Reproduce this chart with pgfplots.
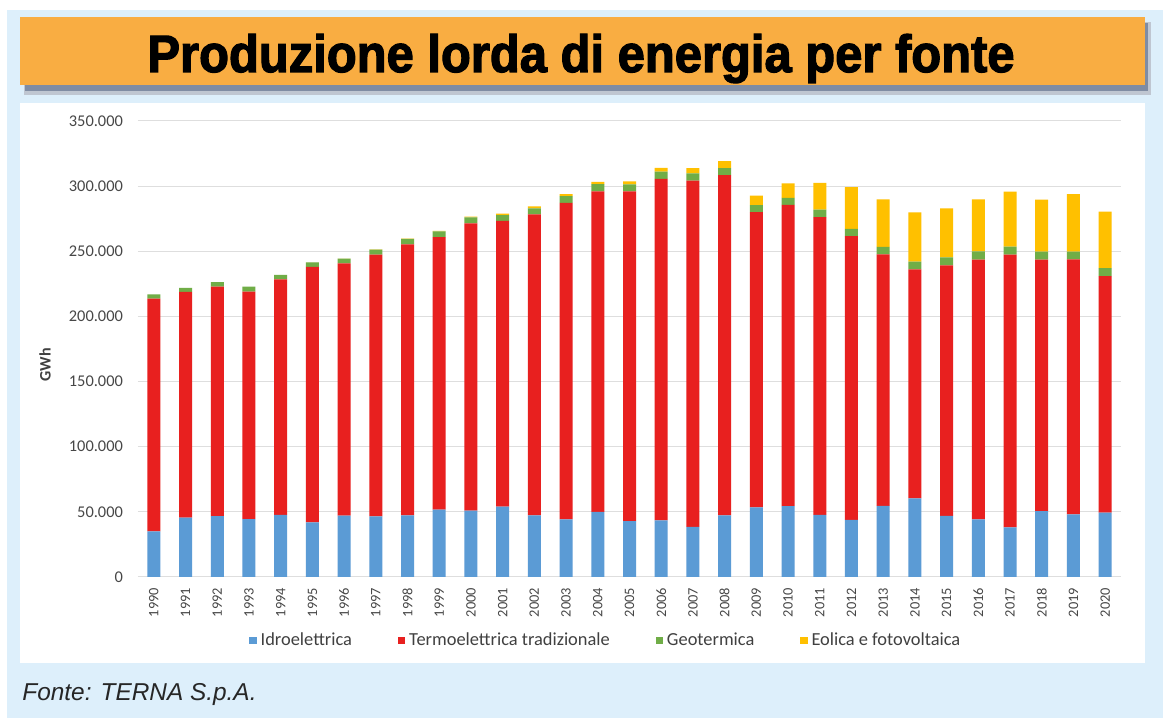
\documentclass[border=0pt]{standalone}
\usepackage{fontspec}
\usepackage{graphicx}
\usepackage{pgfplots}
\pgfplotsset{compat=1.18}
\usepackage{pgfplotstable}
\usetikzlibrary{backgrounds}
\setmainfont{Carlito}
\newfontfamily\titlefont{Liberation Sans}[BoldFeatures={FakeBold=2.4}]
\newfontfamily\fontefont{Liberation Sans}

\definecolor{bgblue}{HTML}{DDEFFB}
\definecolor{banner}{HTML}{F9AD42}
\definecolor{shadow}{HTML}{7F8CA3}
\definecolor{idro}{HTML}{5B9BD5}
\definecolor{termo}{HTML}{E8201F}
\definecolor{geo}{HTML}{70AD47}
\definecolor{eolica}{HTML}{FFC000}

% GWh per source, 1990-2020
\pgfplotstableread{
year hydro thermo geo ws
1990 35079 178590 3222 0
1991 45606 173212 3182 0
1992 46786 175998 3459 0
1993 44482 174637 3667 0
1994 47731 180656 3417 0
1995 41907 196123 3436 14
1996 47072 193568 3762 40
1997 46552 200881 3905 125
1998 47365 207970 4214 237
1999 51777 209068 4403 409
2000 50900 220455 4705 569
2001 53926 219379 4507 1183
2002 47262 231069 4662 1408
2003 44277 242784 5341 1463
2004 49908 246125 5437 1851
2005 42927 253073 5325 2347
2006 43425 262132 5527 3006
2007 38481 265765 5569 4073
2008 47227 261135 5520 5248
2009 53443 226638 5342 7219
2010 54407 231247 5376 11032
2011 47757 228500 5654 20674
2012 43854 217711 5592 32119
2013 54672 192975 5659 36497
2014 60256 175831 5916 37826
2015 46969 192221 6185 37619
2016 44257 199433 6289 39789
2017 38025 209339 6201 42267
2018 50503 193043 6105 40057
2019 48154 195566 6075 44058
2020 49495 181468 6026 43543
}\data

\begin{document}
\begin{tikzpicture}
\begin{axis}[
    name=ax,
    scale only axis,
    width=491.5pt, height=228pt,
    ybar stacked,
    bar width=6.5pt,
    xmin=-0.5, xmax=30.5,
    ymin=0, ymax=350000,
    ytick={0,50000,...,350000},
    scaled y ticks=false,
    xtick=data,
    xticklabels from table={\data}{year},
    axis line style={draw=none},
    major tick length=0pt,
    ymajorgrids=true,
    major grid style={color=black!13, line width=0.5pt},
    tick label style={text=black!72},
    yticklabel style={font=\fontsize{8.2}{9}\selectfont,
        /pgf/number format/.cd, fixed, 1000 sep={.}, assume math mode=true},
    xticklabel style={font=\fontsize{7.2}{8}\selectfont, rotate=90, anchor=east},
    yticklabel shift=4pt,
    xticklabel shift=2pt,
    legend style={draw=none, fill=none, at={(0.477,-0.14)}, anchor=center,
        legend columns=4, font=\fontsize{9.2}{10}\selectfont, text=black!75,
        /tikz/every even column/.append style={column sep=21pt}},
    legend image code/.code={\fill[#1] (0pt,-1.8pt) rectangle (3.6pt,1.8pt);},
    legend cell align=left,
]
\addplot[fill=idro, draw=none] table[x expr=\coordindex, y=hydro]{\data};
\addplot[fill=termo, draw=none] table[x expr=\coordindex, y=thermo]{\data};
\addplot[fill=geo, draw=none] table[x expr=\coordindex, y=geo]{\data};
\addplot[fill=eolica, draw=none] table[x expr=\coordindex, y=ws]{\data};
\legend{Idroelettrica, Termoelettrica tradizionale, Geotermica, Eolica e fotovoltaica}
\end{axis}

% frame, title and notes placed relative to the axis box (pixel/2 coordinates)
\begin{scope}[shift={(ax.south west)}, xshift=-69pt, yshift=-70.5pt, x=1pt, y=1pt]
\begin{scope}[on background layer]
\fill[white] (0,0) rectangle (581.5,359);
\fill[bgblue] (3.5,0) rectangle (581.5,354);
\fill[shadow!50] (12,311.5) rectangle (575.5,348);
\fill[shadow] (12.5,313.5) rectangle (574,347.5);
\fill[banner] (10,316.5) rectangle (572.5,350.5);
\fill[white] (10,27.5) rectangle (572.5,307.5);
\end{scope}
\node[anchor=base, inner sep=0pt] at (290.5,323)
  {\resizebox{433.5pt}{19pt}{\titlefont\bfseries Produzione lorda di energia per fonte}};
\node[rotate=90, font=\fontsize{8}{9}\selectfont\bfseries, text=black!75] at (22.5,176.5) {GWh};
\node[anchor=base west, inner sep=0pt, font=\fontefont\itshape\fontsize{12.2}{13}\selectfont, text=black!85]
  at (11,8.5) {Fonte: TERNA S.p.A.};
\pgfresetboundingbox
\path[use as bounding box] (0,0) rectangle (581.5,359);
\end{scope}
\end{tikzpicture}
\end{document}
